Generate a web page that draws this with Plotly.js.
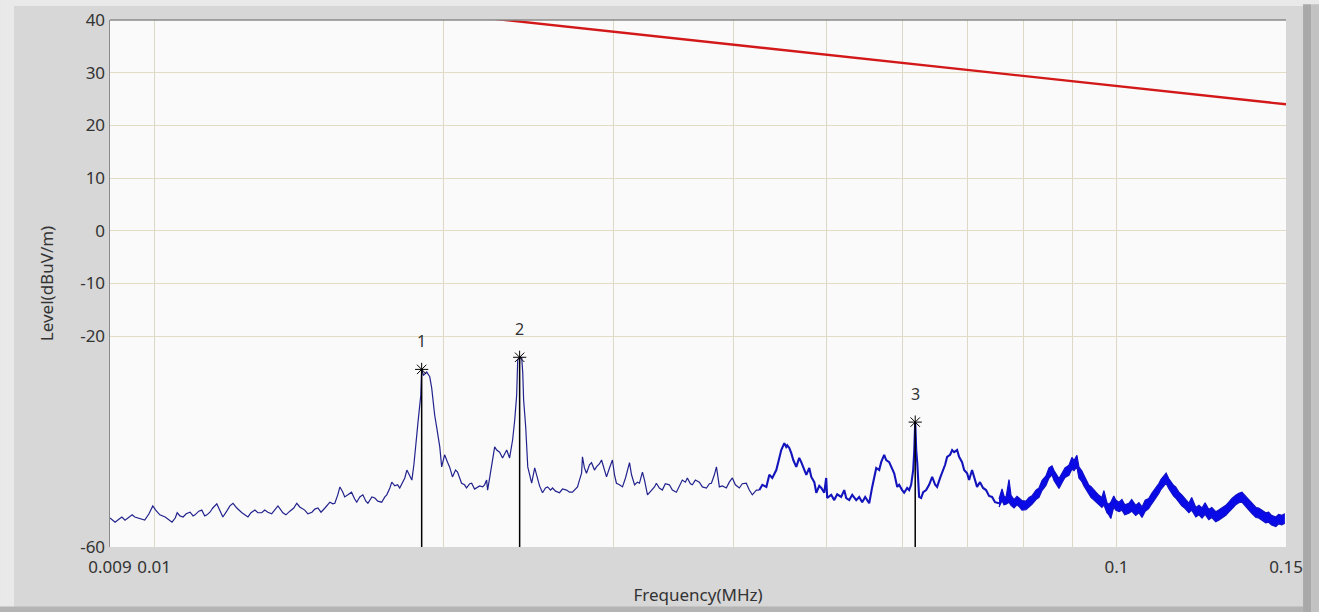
<!DOCTYPE html>
<html>
<head>
<meta charset="utf-8">
<script src="https://cdn.plot.ly/plotly-3.0.1.min.js"></script>
<style>
html,body{margin:0;padding:0;background:#d7d7d7;}
#chart{width:1319px;height:612px;}
</style>
</head>
<body>
<div id="chart"></div>
<script>
// ---- Data ----
// Limit line (dBuV/m vs MHz)
const limitFreq = [0.009, 0.15];
const limitLevel = [48.1, 24.0];

// Measured spectrum, low band (thin trace)
const freqLow = [0.009,0.00911,0.00920,0.00926,0.00933,0.00939,0.00949,0.00955,0.00962,0.00971,0.00978,0.00988,0.00997,0.01004,0.01014,0.01027,0.01034,0.01044,0.01052,0.01057,0.01064,0.01072,0.01080,0.01090,0.01098,0.01103,0.01113,0.01121,0.01129,0.01135,0.01143,0.01151,0.01162,0.01171,0.01179,0.01190,0.01199,0.01208,0.01219,0.01234,0.01243,0.01252,0.01261,0.01273,0.01282,0.01294,0.01303,0.01313,0.01325,0.01335,0.01345,0.01361,0.01371,0.01384,0.01397,0.01407,0.01417,0.01434,0.01445,0.01459,0.01469,0.01480,0.01491,0.01505,0.01516,0.01523,0.01534,0.01541,0.01552,0.01560,0.01571,0.01578,0.01590,0.01604,0.01616,0.01624,0.01636,0.01648,0.01660,0.01668,0.01684,0.01696,0.01708,0.01724,0.01737,0.01745,0.01758,0.01766,0.01779,0.01791,0.01800,0.01813,0.01822,0.01831,0.01844,0.01853,0.01862,0.01866,0.01875,0.01880,0.01888,0.01893,0.01897,0.01906,0.01920,0.01934,0.01943,0.01948,0.01957,0.01966,0.01976,0.01981,0.01990,0.02004,0.02018,0.02028,0.02042,0.02057,0.02067,0.02077,0.02087,0.02102,0.02112,0.02128,0.02138,0.02153,0.02164,0.02179,0.02195,0.02205,0.02216,0.02221,0.02232,0.02243,0.02259,0.02270,0.02286,0.02302,0.02314,0.02325,0.02341,0.02358,0.02370,0.02381,0.02387,0.02398,0.02410,0.02416,0.02421,0.02433,0.02445,0.02456,0.02468,0.02486,0.02503,0.02515,0.02533,0.02551,0.02564,0.02582,0.02594,0.02613,0.02638,0.02657,0.02683,0.02702,0.02721,0.02741,0.02754,0.02767,0.02781,0.02787,0.02800,0.02814,0.02834,0.02848,0.02868,0.02882,0.02903,0.02917,0.02938,0.02952,0.02973,0.02994,0.03009,0.03023,0.03045,0.03067,0.03089,0.03119,0.03134,0.03157,0.03179,0.03194,0.03217,0.03233,0.03256,0.03287,0.03311,0.03326,0.03350,0.03374,0.03398,0.03431,0.03456,0.03489,0.03514,0.03539,0.03565,0.03582,0.03608,0.03625,0.03651,0.03686,0.03713,0.03749,0.03776,0.03794,0.03821,0.03840,0.03858,0.03867,0.03895,0.03932,0.03960,0.03989,0.04018,0.04056,0.04085,0.04124,0.04154,0.04184,0.04225,0.04255];
const levelLow = [-54.5,-55.3,-54.7,-54.3,-54.9,-54.5,-53.9,-54.3,-54.5,-54.7,-54.9,-53.7,-52.2,-53.0,-53.9,-54.3,-54.7,-55.3,-54.5,-53.5,-54.1,-54.3,-53.7,-53.4,-54.1,-53.9,-53.2,-53.0,-54.1,-53.9,-53.4,-52.6,-51.8,-53.2,-54.3,-53.2,-52.2,-51.7,-52.6,-53.5,-53.9,-54.3,-53.5,-53.0,-53.5,-53.5,-53.0,-53.4,-53.7,-53.0,-52.2,-53.5,-53.9,-53.2,-52.6,-51.7,-52.4,-53.0,-53.7,-53.4,-52.8,-52.6,-53.4,-52.6,-52.0,-51.5,-51.8,-51.7,-50.1,-48.6,-49.6,-50.5,-50.1,-49.6,-50.9,-51.5,-50.5,-50.1,-51.3,-51.7,-50.5,-50.7,-51.3,-51.5,-50.5,-50.1,-48.8,-47.7,-48.4,-48.2,-48.8,-47.7,-46.9,-45.4,-46.7,-47.3,-44.4,-42.2,-38.7,-36.5,-33.1,-31.2,-26.3,-27.4,-26.8,-27.7,-29.8,-32.1,-35.0,-37.2,-39.7,-41.0,-44.8,-42.5,-43.9,-44.8,-46.7,-45.4,-45.8,-46.9,-47.9,-48.2,-48.8,-48.0,-47.9,-49.0,-48.8,-48.4,-48.6,-48.2,-47.3,-49.2,-46.9,-44.8,-41.0,-41.6,-42.0,-43.1,-42.3,-41.6,-43.1,-39.7,-35.9,-31.2,-24.5,-24.0,-24.1,-27.0,-32.1,-37.2,-44.8,-46.3,-47.9,-45.0,-47.3,-48.4,-49.7,-48.8,-48.6,-49.2,-48.8,-49.4,-49.7,-49.0,-49.2,-49.6,-49.6,-49.0,-48.6,-47.3,-46.0,-42.9,-45.0,-46.0,-44.4,-44.0,-45.4,-44.8,-44.2,-43.5,-45.4,-46.7,-45.0,-43.5,-46.3,-47.9,-48.2,-48.6,-46.9,-44.0,-46.3,-48.2,-47.7,-47.9,-45.8,-47.3,-50.1,-49.2,-48.6,-47.9,-48.8,-49.2,-48.0,-48.2,-49.2,-49.6,-48.4,-47.3,-47.7,-46.9,-48.0,-48.2,-47.3,-47.7,-48.6,-48.8,-48.0,-47.9,-46.3,-44.8,-47.3,-48.6,-48.4,-48.8,-47.7,-46.9,-48.2,-48.8,-48.0,-47.9,-49.2,-50.1,-49.2,-49.2];

// Measured spectrum, middle band (denser sweep)
const freqMid = [0.04255,0.04286,0.04327,0.04358,0.04389,0.04431,0.04452,0.04463,0.04484,0.04517,0.04538,0.04549,0.04571,0.04593,0.04615,0.04648,0.04681,0.04704,0.04738,0.04761,0.04795,0.04818,0.04853,0.04876,0.04911,0.04935,0.04970,0.04993,0.05005,0.05053,0.05090,0.05126,0.05175,0.05213,0.05238,0.05276,0.05314,0.05365,0.05403,0.05442,0.05481,0.05534,0.05574,0.05601,0.05628,0.05668,0.05695,0.05736,0.05764,0.05805,0.05847,0.05875,0.05918,0.05945,0.05988,0.06017,0.06060,0.06089,0.06118,0.06148,0.06163,0.06178,0.06193,0.06208,0.06236,0.06266,0.06297,0.06342,0.06387,0.06434,0.06480,0.06510,0.06557,0.06589,0.06636,0.06668,0.06716,0.06749,0.06781,0.06829,0.06862,0.06911,0.06945,0.06995,0.07028,0.07078,0.07112,0.07163,0.07214,0.07267,0.07319,0.07372,0.07425,0.07478,0.07550];
const levelMid = [-49.2,-48.2,-48.6,-46.3,-46.9,-45.4,-43.9,-42.9,-41.6,-40.3,-41.0,-40.7,-41.2,-42.2,-43.5,-44.8,-43.1,-43.9,-45.4,-46.3,-45.0,-46.7,-47.7,-49.7,-48.4,-48.8,-49.7,-46.9,-50.7,-50.1,-51.1,-50.0,-50.5,-49.2,-50.7,-51.1,-50.1,-51.1,-50.5,-51.5,-50.5,-51.7,-48.6,-46.9,-45.0,-45.4,-43.9,-42.5,-43.5,-43.9,-45.4,-46.0,-48.6,-48.2,-49.2,-49.7,-48.8,-49.2,-48.2,-45.4,-42.0,-36.3,-41.6,-44.0,-50.5,-50.7,-49.6,-49.2,-48.2,-46.7,-48.2,-48.6,-46.9,-46.0,-44.4,-42.9,-42.5,-41.6,-42.0,-41.6,-42.9,-43.9,-45.4,-46.0,-47.3,-45.4,-46.9,-48.6,-47.7,-48.8,-49.2,-50.3,-50.5,-51.5,-51.7];

// Measured spectrum, high band (densest sweep): upper and lower edge of the noise band
const freqHigh = [0.07550,0.07604,0.07640,0.07677,0.07732,0.07769,0.07825,0.07881,0.07919,0.07976,0.08053,0.08111,0.08169,0.08248,0.08307,0.08367,0.08447,0.08508,0.08570,0.08611,0.08673,0.08714,0.08777,0.08840,0.08924,0.08989,0.09032,0.09096,0.09140,0.09206,0.09250,0.09317,0.09361,0.09407,0.09475,0.09520,0.09588,0.09657,0.09703,0.09773,0.09819,0.09865,0.09935,0.0998,0.1006,0.1013,0.1020,0.1030,0.1037,0.1047,0.1055,0.1063,0.1071,0.1080,0.1088,0.1099,0.1107,0.1112,0.1120,0.1126,0.1133,0.1139,0.1146,0.1152,0.1161,0.1169,0.1177,0.1189,0.1197,0.1209,0.1218,0.1227,0.1236,0.1247,0.1256,0.1268,0.1277,0.1286,0.1299,0.1308,0.1318,0.1330,0.1340,0.1350,0.1359,0.1372,0.1382,0.1396,0.1405,0.1415,0.1429,0.1439,0.1449,0.1464,0.1474,0.1485,0.1496];
const levelHighTop = [-50.9,-49.0,-50.3,-50.6,-47.2,-50.2,-51.0,-50.4,-50.7,-51.2,-51.3,-50.6,-50.3,-49.2,-48.8,-47.4,-46.5,-45.0,-44.6,-45.5,-46.4,-47.0,-46.0,-45.0,-44.5,-43.0,-43.6,-42.6,-44.8,-45.6,-46.4,-47.5,-48.3,-48.5,-49.3,-49.6,-50.2,-50.6,-49.3,-51.6,-51.9,-51.5,-50.3,-51.1,-51.5,-51.0,-52.0,-51.7,-51.0,-52.1,-51.6,-52.4,-51.1,-50.8,-49.8,-48.8,-47.9,-47.2,-46.5,-46.0,-47.0,-47.7,-48.3,-48.6,-49.6,-50.1,-50.8,-51.7,-50.6,-52.5,-52.1,-52.6,-51.6,-52.9,-52.5,-53.3,-53.0,-52.6,-52.1,-51.5,-50.8,-50.2,-49.8,-49.6,-50.2,-51.1,-51.6,-52.5,-52.6,-53.0,-53.5,-53.4,-54.0,-54.3,-53.8,-54.0,-53.7];
const levelHighBot = [-52.4,-51.2,-52.0,-51.9,-51.5,-52.1,-52.6,-52.0,-52.3,-53.0,-52.9,-52.4,-51.9,-51.0,-50.6,-49.3,-48.3,-46.9,-46.3,-47.4,-48.2,-48.9,-47.8,-46.8,-46.4,-45.2,-45.5,-44.8,-46.9,-47.6,-48.4,-49.4,-50.2,-50.6,-51.1,-51.5,-52.0,-52.5,-52.0,-53.5,-53.9,-54.6,-52.4,-53.0,-53.3,-53.0,-53.9,-53.6,-53.2,-54.0,-53.5,-54.4,-53.2,-52.7,-51.8,-50.7,-49.8,-49.1,-48.3,-47.9,-48.9,-49.6,-50.3,-50.7,-51.5,-52.2,-52.6,-53.5,-53.0,-54.3,-53.9,-54.5,-53.8,-54.8,-54.4,-55.2,-54.9,-54.5,-54.0,-53.4,-52.7,-52.0,-51.6,-51.5,-52.1,-53.0,-53.6,-54.4,-54.5,-54.9,-55.4,-55.3,-55.8,-56.1,-55.6,-55.8,-55.5];

// Peak markers
const markerLabels = ["1", "2", "3"];
const markerFreq = [0.01897, 0.02398, 0.06178];
const markerLevel = [-26.3, -24.0, -36.3];

// Axis ticks
const xGridVals = [0.009, 0.01, 0.02, 0.03, 0.04, 0.05, 0.06, 0.07, 0.08, 0.09, 0.1, 0.15];
const xGridText = ["0.009", "0.01", "", "", "", "", "", "", "", "", "0.1", "0.15"];
const yTickVals = [40, 30, 20, 10, 0, -10, -20, -60];
const yTickText = ["40", "30", "20", "10", "0", "-10", "-20", "-60"];

// ---- Build traces ----
const stemX = [], stemY = [];
markerFreq.forEach((f, i) => { stemX.push(f, f, null); stemY.push(-60, markerLevel[i], null); });

const traces = [
  {x: limitFreq, y: limitLevel, mode: 'lines', line: {color: '#d21818', width: 2.4}},
  {x: freqLow, y: levelLow, mode: 'lines', line: {color: '#22228e', width: 1.2}},
  {x: freqMid, y: levelMid, mode: 'lines', line: {color: '#1414bc', width: 2.1}},
  // dense noise band: lower edge, then upper edge filled down to it
  {x: freqHigh, y: levelHighBot, mode: 'lines', line: {color: '#1010c8', width: 1.2}},
  {x: freqHigh, y: levelHighTop, mode: 'lines', fill: 'tonexty', fillcolor: '#0a0ae6',
   line: {color: '#1010c8', width: 1.2}},
  {x: stemX, y: stemY, mode: 'lines', line: {color: '#000000', width: 1.5}},
  {x: markerFreq, y: markerLevel, mode: 'markers',
   marker: {symbol: 'asterisk-open', size: 11, color: '#000', line: {color: '#000', width: 1}}}
];

const fam = '"Noto Sans", "Open Sans", sans-serif';
const tickFont = {family: fam, size: 17, color: '#333333'};
const titleFont = {family: fam, size: 17, color: '#333333'};

const annotations = markerLabels.map((t, i) => ({
  x: Math.log10(markerFreq[i]), y: markerLevel[i], xref: 'x', yref: 'y',
  text: t, showarrow: false, yshift: 28, font: {family: fam, size: 16, color: '#333333'}
}));

// window-frame shading (paper coords relative to plot area)
const shapes = [
  {type: 'line', xref: 'paper', yref: 'paper', x0: 0, x1: 1, y0: 1, y1: 1, line: {color: '#8a8a8a', width: 1.5}},
  {type: 'rect', xref: 'paper', yref: 'paper', x0: -0.0935, x1: -0.0816, y0: -0.124, y1: 1.04, fillcolor: '#e9e9e9', line: {width: 0}, layer: 'below'},
  {type: 'rect', xref: 'paper', yref: 'paper', x0: -0.0935, x1: 1.03, y0: 1.0266, y1: 1.04, fillcolor: '#e9e9e9', line: {width: 0}, layer: 'below'},
  {type: 'rect', xref: 'paper', yref: 'paper', x0: 1.0145, x1: 1.0215, y0: -0.124, y1: 1.03, fillcolor: '#a9a9a9', line: {width: 0}, layer: 'below'},
  {type: 'rect', xref: 'paper', yref: 'paper', x0: 1.0215, x1: 1.03, y0: -0.124, y1: 1.03, fillcolor: '#c2c2c2', line: {width: 0}, layer: 'below'},
  {type: 'rect', xref: 'paper', yref: 'paper', x0: -0.0935, x1: 1.0145, y0: -0.124, y1: -0.113, fillcolor: '#b4b4b4', line: {width: 0}, layer: 'below'}
];

const layout = {
  width: 1319, height: 612,
  margin: {l: 110, r: 33, t: 20, b: 65},
  paper_bgcolor: '#d7d7d7',
  plot_bgcolor: '#fafafa',
  showlegend: false,
  font: tickFont,
  xaxis: {
    type: 'log',
    range: [Math.log10(0.009), Math.log10(0.15)],
    tickmode: 'array', tickvals: xGridVals, ticktext: xGridText,
    showgrid: true, gridcolor: '#dcd8c6', gridwidth: 1,
    zeroline: false, showline: false, ticks: '',
    tickfont: tickFont, ticklabelstandoff: 8,
    title: {text: 'Frequency(MHz)', font: titleFont, standoff: 12}
  },
  yaxis: {
    range: [-60, 40],
    tickmode: 'array', tickvals: yTickVals, ticktext: yTickText,
    showgrid: true, gridcolor: '#e2dcc4', gridwidth: 1,
    zeroline: false, showline: true, linecolor: '#8a8a8a', linewidth: 1.5, ticks: '',
    tickfont: tickFont,
    title: {text: 'Level(dBuV/m)', font: titleFont, standoff: 22}
  },
  annotations: annotations,
  shapes: shapes
};

Plotly.newPlot('chart', traces, layout, {displayModeBar: false, staticPlot: true});
</script>
</body>
</html>
